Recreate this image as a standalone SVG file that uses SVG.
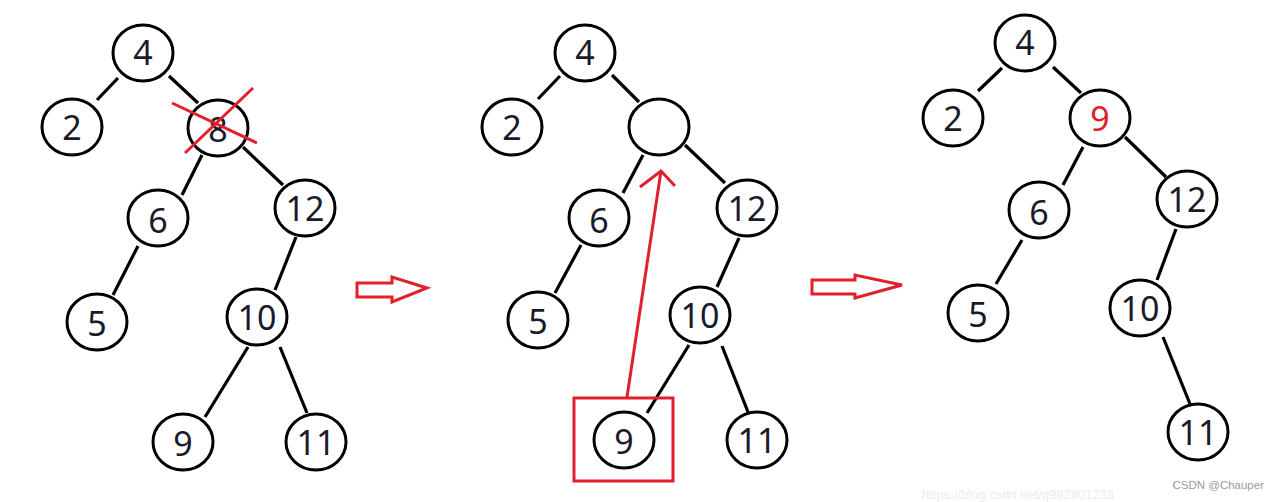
<svg xmlns="http://www.w3.org/2000/svg" width="1280" height="502" viewBox="0 0 1280 502">
<style>
.n ellipse{fill:#fff;stroke:#000;stroke-width:3}
.n text{font-family:"Noto Sans","Open Sans",sans-serif;font-size:34px;fill:#1a1a2a;text-anchor:middle}
.e line{stroke:#000;stroke-width:3.2;stroke-linecap:butt}
.red{stroke:#e0202a;fill:none;stroke-width:3}
</style>
<rect width="1280" height="502" fill="#fff"/>
<g id="connectors" class="e">
<!-- tree 1 -->
<line x1="118" y1="78" x2="97" y2="100"/>
<line x1="169" y1="76" x2="198" y2="103"/>
<line x1="202" y1="155" x2="182" y2="195"/>
<line x1="243" y1="147" x2="283" y2="185"/>
<line x1="138" y1="246" x2="113" y2="295"/>
<line x1="296" y1="237" x2="275" y2="290"/>
<line x1="248" y1="347" x2="205" y2="417"/>
<line x1="280" y1="347" x2="307" y2="413"/>
<!-- tree 2 -->
<line x1="560" y1="76" x2="538" y2="99"/>
<line x1="612" y1="75" x2="639" y2="102"/>
<line x1="643" y1="155" x2="623" y2="193"/>
<line x1="685" y1="145" x2="725" y2="183"/>
<line x1="581" y1="245" x2="555" y2="293"/>
<line x1="739" y1="238" x2="717" y2="287"/>
<line x1="689" y1="345" x2="647" y2="413"/>
<line x1="722" y1="346" x2="748" y2="412"/>
<!-- tree 3 -->
<line x1="1002" y1="68" x2="978" y2="91"/>
<line x1="1053" y1="67" x2="1081" y2="93"/>
<line x1="1083" y1="147" x2="1063" y2="185"/>
<line x1="1125" y1="137" x2="1166" y2="177"/>
<line x1="1022" y1="240" x2="996" y2="284"/>
<line x1="1176" y1="229" x2="1157" y2="280"/>
<line x1="1163" y1="337" x2="1190" y2="404"/>
</g>
<g id="tree1">
<g id="t1-4" class="n"><ellipse cx="143" cy="53" rx="30" ry="28"/><text x="143" y="65">4</text></g>
<g id="t1-2" class="n"><ellipse cx="72" cy="127" rx="30" ry="28"/><text x="72" y="140">2</text></g>
<g id="t1-8" class="n"><ellipse cx="218" cy="128" rx="30" ry="28"/><text x="218" y="142">8</text>
<line class="red" x1="172" y1="103" x2="257" y2="143"/><line class="red" x1="253" y1="88" x2="185" y2="153"/></g>
<g id="t1-6" class="n"><ellipse cx="158" cy="218" rx="30" ry="28"/><text x="158" y="233">6</text></g>
<g id="t1-12" class="n"><ellipse cx="305" cy="208" rx="30" ry="28"/><text x="305" y="221">12</text></g>
<g id="t1-5" class="n"><ellipse cx="97" cy="322" rx="30" ry="28"/><text x="97" y="336">5</text></g>
<g id="t1-10" class="n"><ellipse cx="257" cy="317" rx="30" ry="28"/><text x="257" y="330">10</text></g>
<g id="t1-9" class="n"><ellipse cx="183" cy="442" rx="30" ry="28"/><text x="183" y="456">9</text></g>
<g id="t1-11" class="n"><ellipse cx="316" cy="442" rx="30" ry="28"/><text x="316" y="455">11</text></g>
</g>
<g id="arrow1"><path class="red" d="M357,283 H392 V277 L427,288 L392,302 V297 H357 Z"/></g>
<g id="tree2">
<g id="t2-4" class="n"><ellipse cx="585" cy="53" rx="30" ry="28"/><text x="585" y="65">4</text></g>
<g id="t2-2" class="n"><ellipse cx="512" cy="127" rx="30" ry="28"/><text x="512" y="140">2</text></g>
<g id="t2-empty" class="n"><ellipse cx="659" cy="127" rx="30" ry="28"/></g>
<g id="t2-6" class="n"><ellipse cx="599" cy="218" rx="30" ry="28"/><text x="599" y="233">6</text></g>
<g id="t2-12" class="n"><ellipse cx="747" cy="208" rx="30" ry="28"/><text x="747" y="221">12</text></g>
<g id="t2-5" class="n"><ellipse cx="538" cy="320" rx="30" ry="28"/><text x="538" y="334">5</text></g>
<g id="t2-10" class="n"><ellipse cx="700" cy="315" rx="30" ry="28"/><text x="700" y="328">10</text></g>
<g id="t2-9" class="n"><ellipse cx="624" cy="440" rx="30" ry="28"/><text x="624" y="454">9</text>
<rect class="red" x="574" y="398" width="99" height="83"/></g>
<g id="t2-11" class="n"><ellipse cx="757" cy="440" rx="30" ry="28"/><text x="757" y="453">11</text></g>
<g id="move-arrow"><line class="red" x1="627" y1="397" x2="661" y2="171"/><polyline class="red" points="640,187 661,171 675,186"/></g>
</g>
<g id="arrow2"><path class="red" d="M812,280 H855 V275 L902,285 L855,298 V294 H812 Z"/></g>
<g id="tree3">
<g id="t3-4" class="n"><ellipse cx="1025" cy="43" rx="30" ry="28"/><text x="1025" y="55">4</text></g>
<g id="t3-2" class="n"><ellipse cx="953" cy="118" rx="30" ry="28"/><text x="953" y="131">2</text></g>
<g id="t3-9" class="n"><ellipse cx="1100" cy="118" rx="30" ry="28"/><text x="1100" y="131" style="fill:#e0202a">9</text></g>
<g id="t3-6" class="n"><ellipse cx="1039" cy="210" rx="30" ry="28"/><text x="1039" y="225">6</text></g>
<g id="t3-12" class="n"><ellipse cx="1187" cy="199" rx="30" ry="28"/><text x="1187" y="212">12</text></g>
<g id="t3-5" class="n"><ellipse cx="978" cy="313" rx="30" ry="28"/><text x="978" y="327">5</text></g>
<g id="t3-10" class="n"><ellipse cx="1140" cy="308" rx="30" ry="28"/><text x="1140" y="321">10</text></g>
<g id="t3-11" class="n"><ellipse cx="1198" cy="432" rx="30" ry="28"/><text x="1198" y="445">11</text></g>
</g>
<text x="922" y="499" font-family="Liberation Sans, sans-serif" font-size="13" fill="#ececec">https://blog.csdn.net/q982801238</text>
<text x="1264" y="489" text-anchor="end" font-family="Liberation Sans, sans-serif" font-size="11.5" fill="#9a9a9a">CSDN @Chauper</text>
</svg>
